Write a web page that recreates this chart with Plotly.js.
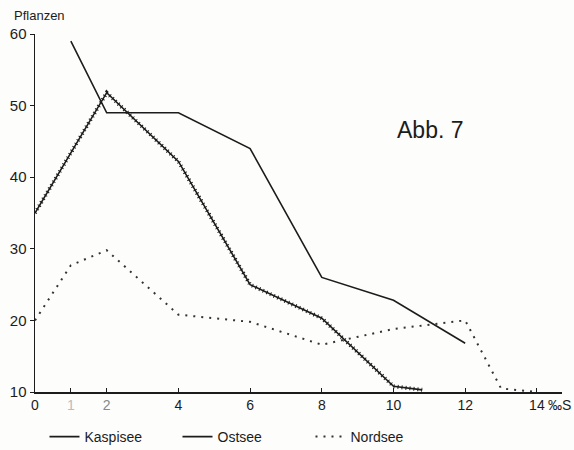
<!DOCTYPE html>
<html>
<head>
<meta charset="utf-8">
<script src="https://cdn.plot.ly/plotly-3.0.1.min.js"></script>
<style>html,body{margin:0;padding:0;background:#fdfdfb;}#chart{width:574px;height:450px;}</style>
</head>
<body>
<div id="chart"></div>
<script>
// Kaspisee
const kasX = [1, 2, 4, 6, 8, 10, 12];
const kasY = [59, 49, 49, 44, 26, 22.8, 16.8];
// Ostsee
const ostX = [0, 2, 4, 6, 8, 10, 10.8];
const ostY = [35, 51.8, 42.2, 25, 20.3, 10.8, 10.3];
// Nordsee
const norX = [0, 1, 2, 4, 6, 8, 10, 12, 13, 14];
const norY = [20, 27.7, 29.8, 20.8, 19.8, 16.6, 18.8, 20, 10.5, 10];

const xTickVals = [0, 1, 2, 4, 6, 8, 10, 12, 14];
const xTickText = ['0', '<span style="color:#bbbbbb">1</span>', '<span style="color:#888888">2</span>', '4', '6', '8', '10', '12', '14'];
const yTickVals = [10, 20, 30, 40, 50, 60];

const ink = '#1c1c1c';
const font = 'Liberation Sans, Arial, sans-serif';

const traces = [
  {x: kasX, y: kasY, name: 'Kaspisee', mode: 'lines', line: {color: ink, width: 1.6}},
  {x: ostX, y: ostY, name: 'Ostsee', mode: 'lines', line: {color: ink, width: 1.6}},
  {x: ostX, y: ostY, name: 'Ostsee', mode: 'lines', showlegend: false, line: {color: ink, width: 4, dash: '1px,3px'}},
  {x: norX, y: norY, name: 'Nordsee', mode: 'lines', line: {color: '#333', width: 2, dash: '2px,6px'}}
];

const layout = {
  width: 574, height: 450,
  paper_bgcolor: '#fdfdfb', plot_bgcolor: '#fdfdfb',
  margin: {l: 35, r: 12, t: 34, b: 58, autoexpand: false},
  font: {family: font, size: 14, color: ink},
  showlegend: true,
  legend: {orientation: 'h', x: 0.018, xanchor: 'left', y: (392 - 437) / 358, yanchor: 'middle',
           entrywidth: 88, font: {size: 14, color: ink}, bgcolor: 'rgba(0,0,0,0)'},
  xaxis: {range: [0, 14.7], showgrid: false, zeroline: false, showline: true, linecolor: ink, linewidth: 1.5,
          tickmode: 'array', tickvals: xTickVals, ticktext: xTickText, ticks: 'inside', ticklen: 4,
          tickcolor: ink, tickfont: {size: 14, color: ink}},
  yaxis: {range: [10, 60], showgrid: false, zeroline: false, showline: true, linecolor: ink, linewidth: 1.5,
          tickmode: 'array', tickvals: yTickVals, ticks: 'outside', ticklen: 4, tickcolor: ink,
          tickfont: {size: 15, color: ink}},
  annotations: [
    {text: 'Pflanzen', xref: 'paper', yref: 'paper', x: -0.044, y: 1.053, xanchor: 'left', yanchor: 'middle',
     showarrow: false, font: {size: 13, color: ink}},
    {text: '‰S', xref: 'x', yref: 'paper', x: 14.25, y: -0.036, xanchor: 'left', yanchor: 'middle',
     showarrow: false, font: {size: 14, color: ink}},
    {text: 'Abb. 7', xref: 'paper', yref: 'paper', x: (430 - 35) / 527, y: (392 - 130) / 358,
     xanchor: 'center', yanchor: 'middle', showarrow: false, font: {size: 23, color: ink}}
  ]
};

Plotly.newPlot('chart', traces, layout, {staticPlot: true});
</script>
</body>
</html>
